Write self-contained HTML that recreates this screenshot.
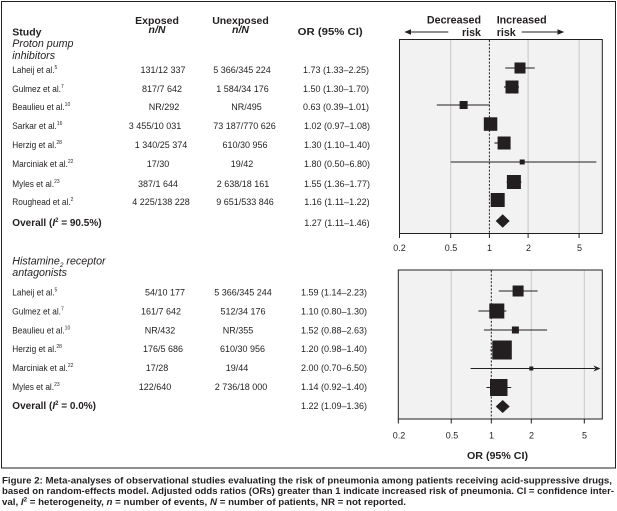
<!DOCTYPE html>
<html>
<head>
<meta charset="utf-8">
<style>
  html,body{margin:0;padding:0;background:#fff;}
  svg{display:block;}
  text{font-family:"Liberation Sans", "DejaVu Sans", sans-serif; fill:#231f20;}
</style>
</head>
<body>
<svg width="617" height="511" viewBox="0 0 617 511" xmlns="http://www.w3.org/2000/svg">
  <rect x="0" y="0" width="617" height="511" fill="#ffffff"/>
  <!-- outer frame -->
  <rect x="1.5" y="1.5" width="614" height="466.5" fill="none" stroke="#231f20" stroke-width="1"/>

  <!-- ===== Column headers ===== -->
  <text x="12.3" y="35.5" font-size="10.5" font-weight="bold">Study</text>
  <text x="157" y="23.8" font-size="10.5" font-weight="bold" text-anchor="middle">Exposed</text>
  <text x="157" y="33" font-size="10.5" font-weight="bold" font-style="italic" text-anchor="middle">n/N</text>
  <text x="240.5" y="23.8" font-size="10.5" font-weight="bold" text-anchor="middle">Unexposed</text>
  <text x="240.5" y="33" font-size="10.5" font-weight="bold" font-style="italic" text-anchor="middle">n/N</text>
  <text x="297.7" y="35.2" font-size="10.5" font-weight="bold" textLength="65" lengthAdjust="spacingAndGlyphs">OR (95% CI)</text>

  <!-- Decreased / Increased risk -->
  <text x="481" y="23.5" font-size="10.7" font-weight="bold" text-anchor="end">Decreased</text>
  <text x="481" y="35.8" font-size="10.7" font-weight="bold" text-anchor="end">risk</text>
  <text x="496.7" y="23.5" font-size="10.7" font-weight="bold">Increased</text>
  <text x="496.7" y="35.8" font-size="10.7" font-weight="bold">risk</text>
  <line x1="448.3" y1="32" x2="409" y2="32" stroke="#231f20" stroke-width="1"/>
  <polygon points="404.3,32 411,29.3 411,34.7" fill="#231f20"/>
  <line x1="521.7" y1="32" x2="559" y2="32" stroke="#231f20" stroke-width="1"/>
  <polygon points="564.3,32 557.5,29.3 557.5,34.7" fill="#231f20"/>

  <!-- ===== Section 1 ===== -->
  <text x="12.3" y="46.8" font-size="10.7" font-style="italic">Proton pump</text>
  <text x="12.3" y="58.8" font-size="10.7" font-style="italic">inhibitors</text>

  <g font-size="9">
    <g transform="translate(12.3,0) scale(0.92,1)">
      <text x="0" y="72.8">Laheij et al.<tspan font-size="5.5" dy="-4">5</tspan></text>
      <text x="0" y="91.8">Gulmez et al.<tspan font-size="5.5" dy="-4">7</tspan></text>
      <text x="0" y="109.8">Beaulieu et al.<tspan font-size="5.5" dy="-4">10</tspan></text>
      <text x="0" y="128.8">Sarkar et al.<tspan font-size="5.5" dy="-4">16</tspan></text>
      <text x="0" y="147.8">Herzig et al.<tspan font-size="5.5" dy="-4">28</tspan></text>
      <text x="0" y="166.8">Marciniak et al.<tspan font-size="5.5" dy="-4">22</tspan></text>
      <text x="0" y="186.8">Myles et al.<tspan font-size="5.5" dy="-4">23</tspan></text>
      <text x="0" y="204.8">Roughead et al.<tspan font-size="5.5" dy="-4">2</tspan></text>
    </g>
    <g text-anchor="middle">
      <text x="163" y="72.8">131/12 337</text>
      <text x="162" y="91.8">817/7 642</text>
      <text x="164" y="109.8">NR/292</text>
      <text x="155" y="128.8">3 455/10 031</text>
      <text x="161" y="147.8">1 340/25 374</text>
      <text x="158" y="166.8">17/30</text>
      <text x="158" y="186.8">387/1 644</text>
      <text x="161" y="204.8">4 225/138 228</text>

      <text x="242" y="72.8">5 366/345 224</text>
      <text x="242.5" y="91.8">1 584/34 176</text>
      <text x="246.5" y="109.8">NR/495</text>
      <text x="244.5" y="128.8">73 187/770 626</text>
      <text x="245" y="147.8">610/30 956</text>
      <text x="242" y="166.8">19/42</text>
      <text x="243" y="186.8">2 638/18 161</text>
      <text x="245" y="204.8">9 651/533 846</text>

      <text x="336" y="72.8">1.73 (1.33–2.25)</text>
      <text x="336" y="91.8">1.50 (1.30–1.70)</text>
      <text x="336" y="109.8">0.63 (0.39–1.01)</text>
      <text x="337" y="128.8">1.02 (0.97–1.08)</text>
      <text x="337" y="147.8">1.30 (1.10–1.40)</text>
      <text x="337" y="166.8">1.80 (0.50–6.80)</text>
      <text x="337" y="186.8">1.55 (1.36–1.77)</text>
      <text x="337" y="204.8">1.16 (1.11–1.22)</text>
      <text x="337" y="226">1.27 (1.11–1.46)</text>
    </g>
  </g>
  <text x="12.3" y="226" font-size="10" font-weight="bold">Overall (<tspan font-style="italic">I</tspan><tspan font-size="6" dy="-4">2</tspan><tspan dy="4"> = 90.5%)</tspan></text>

  <!-- Top forest plot -->
  <rect x="399.5" y="39.5" width="202.8" height="194" fill="#f1f2f1" stroke="none"/>
  <g stroke="#c8c8c8" stroke-width="1">
    <line x1="450.7" y1="40" x2="450.7" y2="233"/>
    <line x1="528.1" y1="40" x2="528.1" y2="233"/>
    <line x1="579.1" y1="40" x2="579.1" y2="233"/>
  </g>
  <rect x="399.5" y="39.5" width="202.8" height="194" fill="none" stroke="#231f20" stroke-width="1"/>
  <line x1="489.4" y1="40" x2="489.4" y2="233" stroke="#231f20" stroke-width="1" stroke-dasharray="2,1.6"/>
  <g stroke="#231f20" stroke-width="1">
    <line x1="399.5" y1="233.5" x2="399.5" y2="238"/>
    <line x1="450.7" y1="233.5" x2="450.7" y2="238"/>
    <line x1="489.4" y1="233.5" x2="489.4" y2="238"/>
    <line x1="528.1" y1="233.5" x2="528.1" y2="238"/>
    <line x1="579.1" y1="233.5" x2="579.1" y2="238"/>
  </g>
  <g font-size="9" text-anchor="middle">
    <text x="399.5" y="251">0.2</text>
    <text x="451" y="251">0.5</text>
    <text x="489.5" y="251">1</text>
    <text x="528.5" y="251">2</text>
    <text x="579.5" y="251">5</text>
  </g>
  <g stroke="#231f20" stroke-width="1.1">
    <line x1="505.3" y1="68" x2="534.7" y2="68"/>
    <line x1="504" y1="87" x2="519" y2="87"/>
    <line x1="436.8" y1="105" x2="489.9" y2="105"/>
    <line x1="494.5" y1="143" x2="508.2" y2="143"/>
    <line x1="450.7" y1="162" x2="596.4" y2="162"/>
    <line x1="506.6" y1="182" x2="521.5" y2="182"/>
  </g>
  <g fill="#231f20">
    <rect x="514.5" y="62.5" width="11" height="11"/>
    <rect x="505.5" y="80.5" width="13" height="13"/>
    <rect x="459.6" y="101" width="8" height="8"/>
    <rect x="483.8" y="117.3" width="13.5" height="13.5"/>
    <rect x="497.6" y="136.5" width="13" height="13"/>
    <rect x="519.7" y="159.5" width="5" height="5"/>
    <rect x="506.9" y="175" width="14" height="14"/>
    <rect x="490.7" y="193" width="14" height="14"/>
    <polygon points="502.7,214.3 509.7,221 502.7,227.7 495.7,221"/>
  </g>

  <!-- ===== Section 2 ===== -->
  <text x="12.3" y="264.3" font-size="10.7" font-style="italic">Histamine<tspan font-size="6.5" dy="2.5">2</tspan><tspan dy="-2.5"> receptor</tspan></text>
  <text x="12.3" y="275.8" font-size="10.7" font-style="italic">antagonists</text>

  <g font-size="9">
    <g transform="translate(12.3,0) scale(0.92,1)">
      <text x="0" y="295.3">Laheij et al.<tspan font-size="5.5" dy="-4">5</tspan></text>
      <text x="0" y="314.3">Gulmez et al.<tspan font-size="5.5" dy="-4">7</tspan></text>
      <text x="0" y="333.3">Beaulieu et al.<tspan font-size="5.5" dy="-4">10</tspan></text>
      <text x="0" y="352">Herzig et al.<tspan font-size="5.5" dy="-4">28</tspan></text>
      <text x="0" y="371">Marciniak et al.<tspan font-size="5.5" dy="-4">22</tspan></text>
      <text x="0" y="390">Myles et al.<tspan font-size="5.5" dy="-4">23</tspan></text>
    </g>
    <g text-anchor="middle">
      <text x="165" y="295.3">54/10 177</text>
      <text x="161" y="314.3">161/7 642</text>
      <text x="160" y="333.3">NR/432</text>
      <text x="163" y="352">176/5 686</text>
      <text x="157" y="371">17/28</text>
      <text x="155" y="390">122/640</text>

      <text x="243" y="295.3">5 366/345 244</text>
      <text x="243" y="314.3">512/34 176</text>
      <text x="238" y="333.3">NR/355</text>
      <text x="242.5" y="352">610/30 956</text>
      <text x="237" y="371">19/44</text>
      <text x="241" y="390">2 736/18 000</text>

      <text x="334" y="295.3">1.59 (1.14–2.23)</text>
      <text x="334" y="314.3">1.10 (0.80–1.30)</text>
      <text x="334" y="333.3">1.52 (0.88–2.63)</text>
      <text x="334" y="352">1.20 (0.98–1.40)</text>
      <text x="334" y="371">2.00 (0.70–6.50)</text>
      <text x="334" y="390">1.14 (0.92–1.40)</text>
      <text x="334" y="409">1.22 (1.09–1.36)</text>
    </g>
  </g>
  <text x="12.3" y="409" font-size="10" font-weight="bold">Overall (<tspan font-style="italic">I</tspan><tspan font-size="6" dy="-4">2</tspan><tspan dy="4"> = 0.0%)</tspan></text>

  <!-- Bottom forest plot -->
  <rect x="398.3" y="270" width="204" height="149" fill="#f1f2f1" stroke="none"/>
  <g stroke="#c8c8c8" stroke-width="1">
    <line x1="451.2" y1="270.5" x2="451.2" y2="418.5"/>
    <line x1="531.3" y1="270.5" x2="531.3" y2="418.5"/>
    <line x1="584.3" y1="270.5" x2="584.3" y2="418.5"/>
  </g>
  <rect x="398.3" y="270" width="204" height="149" fill="none" stroke="#231f20" stroke-width="1"/>
  <line x1="491.3" y1="270.5" x2="491.3" y2="418.5" stroke="#231f20" stroke-width="1" stroke-dasharray="2,1.6"/>
  <g stroke="#231f20" stroke-width="1">
    <line x1="398.3" y1="419" x2="398.3" y2="423.5"/>
    <line x1="451.2" y1="419" x2="451.2" y2="423.5"/>
    <line x1="491.3" y1="419" x2="491.3" y2="423.5"/>
    <line x1="531.3" y1="419" x2="531.3" y2="423.5"/>
    <line x1="584.3" y1="419" x2="584.3" y2="423.5"/>
  </g>
  <g font-size="9" text-anchor="middle">
    <text x="399" y="438.5">0.2</text>
    <text x="452" y="438.5">0.5</text>
    <text x="491.5" y="438.5">1</text>
    <text x="531.5" y="438.5">2</text>
    <text x="584.5" y="438.5">5</text>
  </g>
  <text x="497.5" y="459" font-size="10.5" font-weight="bold" text-anchor="middle" textLength="61" lengthAdjust="spacingAndGlyphs">OR (95% CI)</text>

  <g stroke="#231f20" stroke-width="1.1">
    <line x1="498.8" y1="291" x2="537.6" y2="291"/>
    <line x1="478.4" y1="311" x2="506.4" y2="311"/>
    <line x1="483.9" y1="330" x2="547.1" y2="330"/>
    <line x1="490.1" y1="350" x2="510.7" y2="350"/>
    <line x1="470.6" y1="368.5" x2="595" y2="368.5"/>
    <line x1="486.5" y1="387.5" x2="511.2" y2="387.5"/>
  </g>
  <g fill="#231f20">
    <polygon points="600.5,368.5 593.5,365.5 595.5,368.5 593.5,371.5"/>
    <rect x="512.6" y="285.5" width="11" height="11"/>
    <rect x="489.3" y="303.5" width="15" height="15"/>
    <rect x="511.9" y="326.5" width="7" height="7"/>
    <rect x="492.3" y="340.5" width="19.5" height="19"/>
    <rect x="529.3" y="366.5" width="4" height="4"/>
    <rect x="490" y="379" width="17.5" height="17"/>
    <polygon points="502.7,400 509.7,406.5 502.7,413 495.7,406.5"/>
  </g>

  <!-- ===== Caption ===== -->
  <g font-size="9.5" font-weight="bold" fill="#231f20">
    <text x="2" y="483.5" textLength="610" lengthAdjust="spacingAndGlyphs">Figure 2: Meta-analyses of observational studies evaluating the risk of pneumonia among patients receiving acid-suppressive drugs,</text>
    <text x="2" y="494.2" textLength="612" lengthAdjust="spacingAndGlyphs">based on random-effects model. Adjusted odds ratios (ORs) greater than 1 indicate increased risk of pneumonia. CI = confidence inter-</text>
    <text x="2" y="504.8" textLength="404" lengthAdjust="spacingAndGlyphs">val, <tspan font-style="italic">I</tspan><tspan font-size="6" dy="-3.5">2</tspan><tspan dy="3.5"> = heterogeneity, </tspan><tspan font-style="italic">n</tspan> = number of events, <tspan font-style="italic">N</tspan> = number of patients, NR = not reported.</text>
  </g>
</svg>
</body>
</html>
